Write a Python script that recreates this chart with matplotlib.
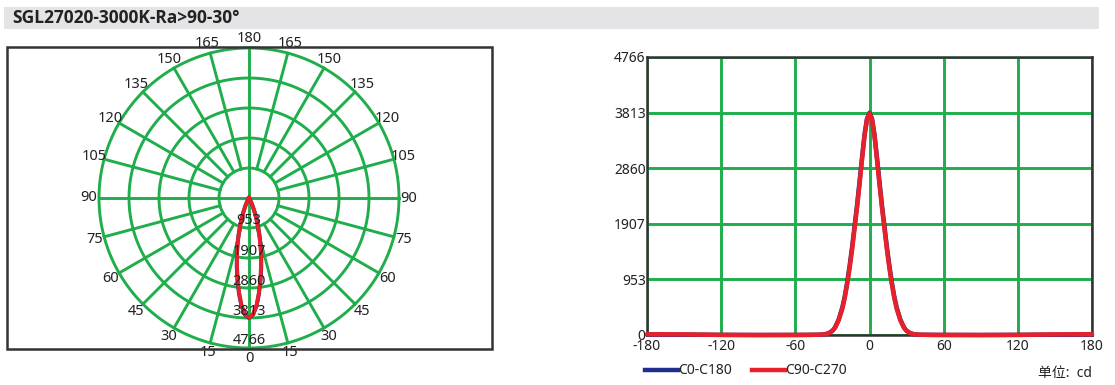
import numpy as np
import matplotlib
matplotlib.use("Agg")
import matplotlib.pyplot as plt
from matplotlib.patches import Rectangle

# ---- data ----
title = "SGL27020-3000K-Ra>90-30°"
ring_values = [953, 1907, 2860, 3813, 4766]
r_max = 4766
angle_ticks = [0, 15, 30, 45, 60, 75, 90, 105, 120, 135, 150, 165, 180]
gamma = [0, 2, 4, 6, 8, 10, 12, 14, 16, 18, 20, 22, 25, 28, 30, 33, 36, 40, 50, 60, 90, 120, 150, 180]
c90_c270 = [3800, 3700, 3420, 3020, 2600, 2200, 1840, 1480, 1160, 880, 640, 450, 250, 120, 70, 30, 12, 5, 2, 1, 0, 2, 10, 12]
c0_c180 = [3810, 3710, 3440, 3050, 2640, 2240, 1880, 1520, 1200, 910, 665, 470, 262, 126, 73, 31, 12, 5, 2, 1, 0, 2, 6, 8]
x_ticks = [-180, -120, -60, 0, 60, 120, 180]
y_ticks = [0, 953, 1907, 2860, 3813, 4766]
legend_labels = ["C0-C180", "C90-C270"]
unit_label = "单位:  cd"

GREEN = "#1fae4b"
RED = "#e8202a"
BLUE = "#1f2d8c"
DARK = "#333333"
TXT = "#222222"

plt.rcParams['font.family'] = ['Noto Sans', 'Noto Sans CJK SC', 'DejaVu Sans']

W, H = 1115, 385
fig = plt.figure(figsize=(W / 100, H / 100), dpi=100)

def fx(px):
    return px / W

def fy(py):
    return 1 - py / H

# title bar
fig.patches.append(Rectangle((fx(4), fy(29)), fx(1099) - fx(4), fy(7) - fy(29),
                             transform=fig.transFigure, facecolor="#e4e4e6", edgecolor="none", zorder=0))
fig.text(fx(12), fy(18), title, fontsize=12.5, fontweight="bold", color=TXT,
         va="center", ha="left", family=['Open Sans', 'DejaVu Sans'])

# polar box
fig.patches.append(Rectangle((fx(7), fy(349)), fx(492) - fx(7), fy(47) - fy(349),
                             transform=fig.transFigure, facecolor="none", edgecolor=DARK,
                             linewidth=1.8, zorder=0))

# ---- polar chart ----
cx, cy, R = 249, 198, 150
pax = fig.add_axes([fx(cx - R), fy(cy + R), fx(2 * R), fy(cy - R) - fy(cy + R)], projection="polar")
pax.set_theta_zero_location("S")
pax.set_ylim(0, r_max)
pax.axis("off")
pax.patch.set_alpha(0)

GLW = 2.1
th_full = np.linspace(0, 2 * np.pi, 361)
for rv in ring_values:
    pax.plot(th_full, np.full_like(th_full, rv), color=GREEN, lw=GLW, zorder=1, clip_on=False)
for a in range(0, 360, 15):
    tt = np.deg2rad(a)
    r0 = 0 if a % 90 == 0 else ring_values[0]
    pax.plot([tt, tt], [r0, r_max], color=GREEN, lw=GLW, zorder=1, clip_on=False)

g = np.array(gamma, dtype=float)
def mirror(vals):
    v = np.array(vals, dtype=float)
    th = np.concatenate([-g[::-1], g[1:]])
    vv = np.concatenate([v[::-1], v[1:]])
    return np.deg2rad(th), vv

tb, vb = mirror(c0_c180)
tr, vr = mirror(c90_c270)
pax.plot(tb, vb, color=BLUE, lw=2.8, zorder=3)
pax.plot(tr, vr, color=RED, lw=2.8, zorder=4)

label_r = r_max * 160 / 150
for a in angle_ticks:
    for s in ([1] if a in (0, 180) else [1, -1]):
        pax.text(np.deg2rad(s * a), label_r, str(a), ha="center", va="center",
                 fontsize=10.5, color=TXT, clip_on=False)
off = r_max * 7 / 150
for rv in ring_values:
    pax.text(0, rv - off, str(rv), ha="center", va="center", fontsize=10.5,
             color=TXT, zorder=5)

# ---- cartesian chart ----
L, Rr, T, B = 647, 1092, 57, 335
ax = fig.add_axes([fx(L), fy(B), fx(Rr) - fx(L), fy(T) - fy(B)])
ax.set_xlim(-180, 180)
ax.set_ylim(0, r_max)
ax.set_xticks(x_ticks)
ax.set_yticks(y_ticks)
ax.set_xticklabels([str(v) for v in x_ticks], fontsize=10, color=TXT)
ax.set_yticklabels([str(v) for v in y_ticks], fontsize=10, color=TXT)
ax.tick_params(axis="x", length=0, pad=3)
ax.tick_params(axis="y", length=0, pad=1)
ax.grid(True, color=GREEN, lw=GLW)
ax.set_axisbelow(True)
for sp in ax.spines.values():
    sp.set_color(DARK)
    sp.set_linewidth(1.8)

xb = np.concatenate([-g[::-1], g[1:]])
yb = np.concatenate([np.array(c0_c180)[::-1], np.array(c0_c180)[1:]])
yr = np.concatenate([np.array(c90_c270)[::-1], np.array(c90_c270)[1:]])
ax.plot(xb, yb, color=BLUE, lw=3.2, zorder=3, clip_on=False, solid_capstyle="round")
ax.plot(xb, yr, color=RED, lw=3.2, zorder=4, clip_on=False, solid_capstyle="round")

# legend
ly = fy(370)
fig.add_artist(plt.Line2D([fx(645), fx(678)], [ly, ly], color=BLUE, lw=3.2))
fig.text(fx(678), ly, legend_labels[0], fontsize=10, va="center", ha="left", color=TXT)
fig.add_artist(plt.Line2D([fx(752), fx(785)], [ly, ly], color=RED, lw=3.2))
fig.text(fx(785), ly, legend_labels[1], fontsize=10, va="center", ha="left", color=TXT)
fig.text(fx(1092), fy(373), unit_label, fontsize=10, va="center", ha="right", color=TXT)

fig.savefig("out.png", dpi=100)
